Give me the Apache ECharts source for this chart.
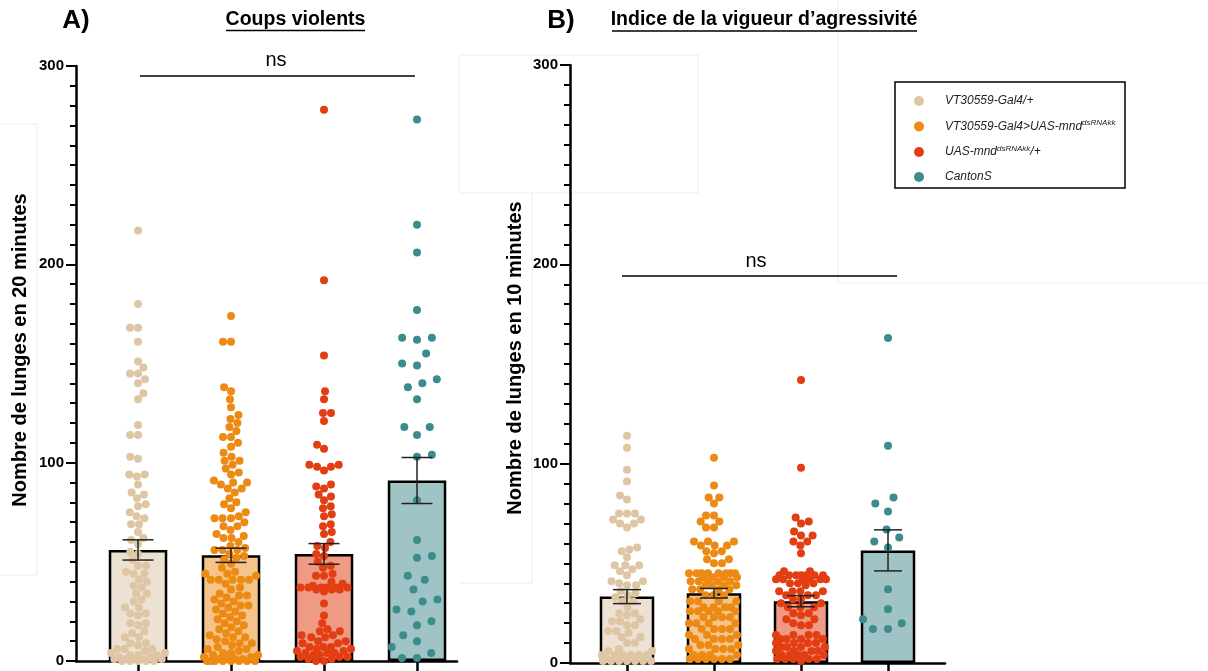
<!DOCTYPE html>
<html>
<head>
<meta charset="utf-8">
<title>Coups violents / Indice de la vigueur d'agressivité</title>
<script src="https://cdn.jsdelivr.net/npm/echarts@6/dist/echarts.min.js"></script>
<style>
  html, body { margin: 0; padding: 0; background: #fff; }
  #chart { width: 1208px; height: 671px; }
</style>
</head>
<body>
<div id="chart"></div>
<script>
// genotypes (same order in both panels)
const groups = ['VT30559-Gal4/+', 'VT30559-Gal4>UAS-mnd dsRNAkk', 'UAS-mnd dsRNAkk/+', 'CantonS'];
const legendLabels = ['VT30559-Gal4/+', 'VT30559-Gal4>UAS-mnd{sup|dsRNAkk}', 'UAS-mnd{sup|dsRNAkk}/+', 'CantonS'];
const yTicks = [0, 100, 200, 300];

// A) Coups violents : mean and SEM per genotype
const meanA = [56, 53.3, 54, 91];
const semA = [5.1, 3.6, 5.2, 11.6];
// B) Indice de la vigueur d'agressivité
const meanB = [33.3, 35, 31, 56.5];
const semB = [3.5, 2.4, 2.8, 10.3];

// individual flies, panel A
const ptsA1 = [217, 180, 168, 168, 161, 151, 148, 145, 145, 142, 140, 135, 132, 119, 114, 114, 103, 102, 94, 94, 93, 89, 85, 84, 82, 79, 78, 75, 73, 72, 69, 69, 65, 62, 61, 59, 55, 54, 51, 48, 48, 45, 44, 44, 41, 40, 38, 37, 34, 34, 31, 30, 27, 27, 24, 24, 23, 19, 19, 18, 15, 14, 12, 12, 9, 9, 8, 6, 6, 6, 5, 4, 4, 3, 3, 3, 2, 2, 1, 1, 1, 1, 1, 0, 0, 0, 0, 0];
const ptsA2 = [174, 161, 161, 138, 136, 132, 128, 124, 122, 120, 118, 116, 113, 113, 110, 108, 105, 103, 101, 101, 99, 97, 95, 94, 91, 90, 90, 89, 87, 87, 85, 82, 80, 79, 77, 75, 73, 72, 72, 72, 70, 68, 68, 66, 64, 63, 62, 62, 60, 58, 57, 56, 56, 56, 54, 53, 52, 51, 49, 47, 45, 44, 44, 43, 41, 41, 41, 41, 41, 39, 37, 36, 34, 33, 33, 32, 31, 30, 29, 28, 28, 27, 26, 25, 24, 23, 22, 21, 20, 19, 18, 17, 16, 15, 14, 13, 12, 12, 11, 10, 9, 9, 8, 7, 6, 6, 5, 4, 4, 3, 3, 2, 2, 1, 1, 1, 1, 0, 0, 0, 0, 0, 0, 0, 0];
const ptsA3 = [278, 192, 154, 136, 132, 125, 125, 121, 109, 107, 99, 99, 98, 98, 96, 89, 88, 87, 84, 83, 81, 78, 77, 74, 73, 69, 68, 65, 64, 60, 58, 57, 54, 53, 50, 48, 47, 44, 43, 43, 40, 39, 38, 37, 37, 37, 37, 37, 37, 36, 36, 36, 35, 29, 23, 19, 16, 15, 15, 13, 13, 12, 12, 10, 10, 9, 9, 7, 7, 7, 6, 6, 5, 5, 4, 4, 4, 3, 3, 2, 2, 2, 1, 1, 0, 0];
const ptsA4 = [273, 220, 206, 177, 163, 163, 162, 155, 150, 149, 142, 140, 138, 132, 118, 118, 114, 104, 103, 81, 61, 53, 52, 43, 41, 36, 31, 30, 26, 25, 20, 18, 13, 10, 7, 4, 1.5, 1.5];

// individual flies, panel B
const ptsB1 = [114, 108, 97, 91, 84, 82, 75, 75, 75, 72, 72, 70, 70, 68, 58, 57, 56, 53, 49, 49, 49, 47, 46, 44, 41, 41, 40, 39, 39, 36, 35, 34, 33, 31, 31, 28, 25, 25, 24, 22, 21, 21, 19, 19, 16, 16, 15, 13, 13, 10, 10, 7, 6, 6, 4, 4, 4, 4, 4, 4, 2, 1, 1, 1, 1, 1, 1, 1];
const ptsB2 = [103, 89, 83, 83, 80, 74, 74, 71, 71, 68, 68, 61, 61, 61, 59, 59, 59, 56, 56, 55, 52, 52, 50, 50, 45, 45, 45, 45, 45, 45, 45, 45, 43, 43, 43, 43, 41, 41, 41, 41, 41, 39, 39, 39, 39, 37, 37, 37, 37, 34, 34, 34, 31, 31, 31, 31, 28, 28, 28, 28, 26, 26, 26, 26, 26, 23, 23, 23, 23, 20, 20, 20, 20, 17, 17, 17, 17, 14, 14, 14, 12, 12, 12, 12, 9, 9, 9, 7, 7, 7, 7, 4, 4, 4, 4, 2, 2, 2, 2, 2, 2];
const ptsB3 = [142, 98, 73, 71, 70, 66, 64, 64, 61, 61, 59, 55, 46, 46, 44, 44, 44, 44, 44, 44, 44, 42, 42, 42, 42, 42, 42, 40, 40, 40, 39, 36, 36, 36, 36, 34, 34, 34, 32, 32, 30, 30, 28, 28, 28, 25, 25, 24, 22, 22, 20, 19, 19, 14, 14, 14, 14, 12, 12, 12, 12, 10, 10, 10, 10, 8, 8, 8, 8, 6, 6, 6, 6, 4, 4, 4, 4, 4, 2, 2, 2, 2, 2, 1];
const ptsB4 = [163, 109, 83, 80, 76, 67, 63, 61, 58, 37, 27, 22, 20, 17, 17];

const dotColors = ['#dec6a4', '#ec8a14', '#e33e12', '#3c8c8e'];
const barFills = ['#ede1d4', '#f4c48a', '#ee9a84', '#a0c4c6'];
const font = '"Liberation Sans", Arial, Helvetica, sans-serif';

const chart = echarts.init(document.getElementById('chart'));

const yAxis = gridIndex => ({
  gridIndex,
  type: 'value',
  min: yTicks[0],
  max: yTicks[yTicks.length - 1],
  interval: yTicks[1] - yTicks[0],
  axisLine: { show: true, lineStyle: { color: '#000', width: 2.5 } },
  axisTick: { show: true, length: 10, lineStyle: { color: '#000', width: 2 } },
  minorTick: { show: true, splitNumber: 10, length: 6, lineStyle: { color: '#000', width: 2 } },
  splitLine: { show: false },
  axisLabel: { color: '#000', fontFamily: font, fontWeight: 'bold', fontSize: 15, margin: 12 }
})

const xAxis = (gridIndex, min, max) => ({
  gridIndex,
  type: 'value',
  min,
  max,
  axisLine: { onZero: false, lineStyle: { color: '#000', width: 2.5 } },
  axisTick: { show: true, customValues: groups.map((g, i) => i + 1), length: 12, lineStyle: { color: '#000', width: 2.5 } },
  axisLabel: { show: false },
  splitLine: { show: false }
})

const panelSeries = (k, means, sems, barWidth, capWidth) => {
  const list = [{
    type: 'bar',
    id: 'bars' + k,
    xAxisIndex: k,
    yAxisIndex: k,
    barWidth,
    z: 1,
    silent: true,
    itemStyle: { borderColor: '#000', borderWidth: 2.5 },
    data: means.map((m, i) => ({ value: [i + 1, m], itemStyle: { color: barFills[i] } }))
  }]
  groups.forEach((g, i) => list.push({
    type: 'scatter',
    id: 'pts' + k + '_' + i,
    name: g,
    xAxisIndex: k,
    yAxisIndex: k,
    symbolSize: 8,
    z: 2,
    clip: false,
    silent: true,
    itemStyle: { color: dotColors[i], opacity: 1 },
    data: []
  }))
  list.push({
    type: 'custom',
    id: 'err' + k,
    xAxisIndex: k,
    yAxisIndex: k,
    z: 3,
    silent: true,
    encode: { x: 0, y: [1, 2] },
    data: means.map((m, i) => [i + 1, m - sems[i], m + sems[i]]),
    renderItem: (params, api) => {
      const lo = api.coord([api.value(0), api.value(1)])
      const hi = api.coord([api.value(0), api.value(2)])
      const h = capWidth / 2
      const style = { stroke: '#222', lineWidth: 1.5 }
      return {
        type: 'group',
        children: [
          { type: 'line', shape: { x1: hi[0], y1: hi[1], x2: lo[0], y2: lo[1] }, style },
          { type: 'line', shape: { x1: hi[0] - h, y1: hi[1], x2: hi[0] + h, y2: hi[1] }, style },
          { type: 'line', shape: { x1: lo[0] - h, y1: lo[1], x2: lo[0] + h, y2: lo[1] }, style }
        ]
      }
    }
  })
  return list
}

const text = (t, x, y, size, weight, extra) => Object.assign({
  type: 'text',
  x,
  y,
  z: 10,
  style: {
    text: t, fill: '#000', font: weight + ' ' + size + 'px ' + font,
    align: 'center', verticalAlign: 'middle', textAlign: 'center', textVerticalAlign: 'middle'
  }
}, extra || {})

const line = (x1, y1, x2, y2, color, width) => ({
  type: 'line', z: 10, shape: { x1, y1, x2, y2 }, style: { stroke: color, lineWidth: width }
})

const faint = '#ededed'

chart.setOption({
  animation: false,
  backgroundColor: '#fff',
  grid: [
    { left: 76, top: 66, width: 381, height: 595 },
    { left: 570, top: 65, width: 375, height: 598 }
  ],
  xAxis: [xAxis(0, 0.333, 4.43), xAxis(1, 0.345, 4.655)],
  yAxis: [yAxis(0), yAxis(1)],
  legend: {
    data: groups,
    orient: 'vertical',
    left: 909,
    top: 89,
    icon: 'circle',
    itemWidth: 10,
    itemHeight: 10,
    itemGap: 11,
    selectedMode: false,
    formatter: name => legendLabels[groups.indexOf(name)],
    textStyle: {
      fontFamily: font, fontStyle: 'italic', fontSize: 12, color: '#222', lineHeight: 14,
      padding: [0, 0, 0, 16],
      rich: { sup: { fontFamily: font, fontStyle: 'italic', fontSize: 8, color: '#222', padding: [0, 0, 7, 0] } }
    }
  },
  graphic: [
    // faint leftovers of the pasted figure
    { type: 'rect', z: 0, shape: { x: 459, y: 55, width: 239, height: 138 }, style: { fill: 'none', stroke: faint, lineWidth: 1 } },
    { type: 'polyline', z: 0, shape: { points: [[532, 193], [532, 583], [459, 583]] }, style: { fill: 'none', stroke: faint, lineWidth: 1 } },
    { type: 'polyline', z: 0, shape: { points: [[838, 0], [838, 283], [1208, 283]] }, style: { fill: 'none', stroke: faint, lineWidth: 1 } },
    { type: 'polyline', z: 0, shape: { points: [[0, 124], [37, 124], [37, 575], [0, 575]] }, style: { fill: 'none', stroke: faint, lineWidth: 1 } },
    // titles
    text('A)', 76, 21, 26, 'bold'),
    text('Coups violents', 295.5, 20, 19.5, 'bold'),
    line(226, 30.5, 365, 30.5, '#000', 1.5),
    text('B)', 561, 21, 26, 'bold'),
    text('Indice de la vigueur d\u2019agressivit\u00e9', 764, 20, 19.5, 'bold'),
    line(612, 31, 917, 31, '#000', 1.5),
    // y axis titles
    text('Nombre de lunges en 20 minutes', 20, 350, 20, 'bold', { rotation: Math.PI / 2 }),
    text('Nombre de lunges en 10 minutes', 515, 358, 20, 'bold', { rotation: Math.PI / 2 }),
    // significance
    text('ns', 276, 60, 20, 'normal'),
    line(140, 76, 415, 76, '#000', 1.5),
    text('ns', 756, 261, 20, 'normal'),
    line(622, 276, 897, 276, '#000', 1.5),
    // legend frame
    { type: 'rect', z: 10, shape: { x: 895, y: 82, width: 230, height: 106 }, style: { fill: 'none', stroke: '#000', lineWidth: 1.5 } }
  ],
  series: [...panelSeries(0, meanA, semA, 58.5, 31), ...panelSeries(1, meanB, semB, 54.5, 28)]
})

// beeswarm: place sorted values one by one at the free spot closest to the centre,
// never wider than maxHalf px; when the row is full, take the least crowded spot
const swarm = (values, cx, k, diameter, maxHalf) => {
  const finder = { xAxisIndex: k, yAxisIndex: k }
  const ox = chart.convertToPixel(finder, [cx, 0])[0]
  const unit = chart.convertToPixel(finder, [cx + 1, 0])[0] - ox
  const placed = []
  return values.slice().sort((a, b) => a - b).map(v => {
    const py = chart.convertToPixel(finder, [cx, v])[1]
    const blocked = []
    placed.forEach(p => {
      const dy = Math.abs(p.y - py)
      if (dy < diameter) {
        const w = Math.sqrt(diameter * diameter - dy * dy)
        blocked.push([p.x - w, p.x + w])
      }
    })
    const candidates = [0]
    blocked.forEach(b => candidates.push(b[0], b[1]))
    const flip = placed.length % 2 ? 1 : -1
    const free = candidates
      .filter(c => Math.abs(c) <= maxHalf + 1e-6)
      .filter(c => blocked.every(b => c <= b[0] + 1e-6 || c >= b[1] - 1e-6))
      .sort((a, b) => (Math.abs(a) - Math.abs(b)) || flip * (a - b))
    let x = free[0]
    if (x === undefined) {
      let best = 0
      let bestD = -1
      for (let c = -maxHalf; c <= maxHalf; c += 0.5) {
        let m = Infinity
        placed.forEach(p => { m = Math.min(m, Math.hypot(p.x - c, p.y - py)) })
        if (m > bestD + 1e-6) { bestD = m; best = c }
      }
      x = best
    }
    placed.push({ x, y: py })
    return [cx + x / unit, v]
  })
}

const panels = [[ptsA1, ptsA2, ptsA3, ptsA4], [ptsB1, ptsB2, ptsB3, ptsB4]]
const halfWidth = [27, 25]
const updates = []
panels.forEach((sets, k) => sets.forEach((vals, i) => {
  const d = vals.length < 50 ? 15 : 8
  updates.push({ id: 'pts' + k + '_' + i, data: swarm(vals, i + 1, k, d, halfWidth[k]) })
}))
chart.setOption({ series: updates })

window.addEventListener('resize', () => chart.resize())
</script>
</body>
</html>
